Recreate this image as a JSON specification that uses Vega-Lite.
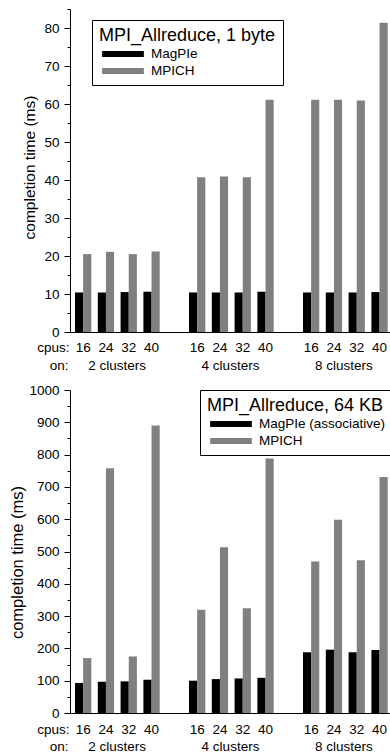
{
  "$schema": "https://vega.github.io/schema/vega-lite/v6.json",
  "padding": {"left": 9, "top": 8, "right": 0, "bottom": 0},
  "spacing": 11,
  "config": {
    "view": {"stroke": null},
    "font": "Liberation Sans",
    "axis": {"domainColor": "black", "tickColor": "black", "labelColor": "black", "titleColor": "black", "labelFont": "Liberation Sans", "titleFont": "Liberation Sans", "labelFontSize": 13.5, "titleFontSize": 13.5, "titleFontWeight": "normal", "grid": false, "domainWidth": 1, "tickWidth": 1},
    "legend": {"orient": "none", "titleFontSize": 18, "titleFontWeight": "normal", "titleFont": "Liberation Sans", "titleColor": "black", "titlePadding": 2, "labelFontSize": 13.5, "labelFont": "Liberation Sans", "labelColor": "black", "labelOffset": 7, "symbolType": "M-1,-0.14H1V0.14H-1Z", "symbolSize": 1740, "symbolStrokeWidth": 0, "symbolOffset": 3, "clipHeight": 14, "rowPadding": 3, "padding": 7, "strokeColor": "black", "fillColor": "white", "cornerRadius": 0}
  },
  "datasets": {
    "small": [
      {"clusters": "2 clusters", "cpus": 16, "impl": "MagPIe", "time": 10.4},
      {"clusters": "2 clusters", "cpus": 16, "impl": "MPICH", "time": 20.5},
      {"clusters": "2 clusters", "cpus": 24, "impl": "MagPIe", "time": 10.4},
      {"clusters": "2 clusters", "cpus": 24, "impl": "MPICH", "time": 21.1},
      {"clusters": "2 clusters", "cpus": 32, "impl": "MagPIe", "time": 10.5},
      {"clusters": "2 clusters", "cpus": 32, "impl": "MPICH", "time": 20.5},
      {"clusters": "2 clusters", "cpus": 40, "impl": "MagPIe", "time": 10.6},
      {"clusters": "2 clusters", "cpus": 40, "impl": "MPICH", "time": 21.2},
      {"clusters": "4 clusters", "cpus": 16, "impl": "MagPIe", "time": 10.4},
      {"clusters": "4 clusters", "cpus": 16, "impl": "MPICH", "time": 40.7},
      {"clusters": "4 clusters", "cpus": 24, "impl": "MagPIe", "time": 10.4},
      {"clusters": "4 clusters", "cpus": 24, "impl": "MPICH", "time": 40.9},
      {"clusters": "4 clusters", "cpus": 32, "impl": "MagPIe", "time": 10.4},
      {"clusters": "4 clusters", "cpus": 32, "impl": "MPICH", "time": 40.7},
      {"clusters": "4 clusters", "cpus": 40, "impl": "MagPIe", "time": 10.6},
      {"clusters": "4 clusters", "cpus": 40, "impl": "MPICH", "time": 61.1},
      {"clusters": "8 clusters", "cpus": 16, "impl": "MagPIe", "time": 10.4},
      {"clusters": "8 clusters", "cpus": 16, "impl": "MPICH", "time": 61.1},
      {"clusters": "8 clusters", "cpus": 24, "impl": "MagPIe", "time": 10.4},
      {"clusters": "8 clusters", "cpus": 24, "impl": "MPICH", "time": 61.1},
      {"clusters": "8 clusters", "cpus": 32, "impl": "MagPIe", "time": 10.4},
      {"clusters": "8 clusters", "cpus": 32, "impl": "MPICH", "time": 60.9},
      {"clusters": "8 clusters", "cpus": 40, "impl": "MagPIe", "time": 10.5},
      {"clusters": "8 clusters", "cpus": 40, "impl": "MPICH", "time": 81.4}
    ],
    "large": [
      {"clusters": "2 clusters", "cpus": 16, "impl": "MagPIe (associative)", "time": 93},
      {"clusters": "2 clusters", "cpus": 16, "impl": "MPICH", "time": 170},
      {"clusters": "2 clusters", "cpus": 24, "impl": "MagPIe (associative)", "time": 97},
      {"clusters": "2 clusters", "cpus": 24, "impl": "MPICH", "time": 758},
      {"clusters": "2 clusters", "cpus": 32, "impl": "MagPIe (associative)", "time": 98},
      {"clusters": "2 clusters", "cpus": 32, "impl": "MPICH", "time": 175},
      {"clusters": "2 clusters", "cpus": 40, "impl": "MagPIe (associative)", "time": 103},
      {"clusters": "2 clusters", "cpus": 40, "impl": "MPICH", "time": 890},
      {"clusters": "4 clusters", "cpus": 16, "impl": "MagPIe (associative)", "time": 100},
      {"clusters": "4 clusters", "cpus": 16, "impl": "MPICH", "time": 320},
      {"clusters": "4 clusters", "cpus": 24, "impl": "MagPIe (associative)", "time": 105},
      {"clusters": "4 clusters", "cpus": 24, "impl": "MPICH", "time": 513},
      {"clusters": "4 clusters", "cpus": 32, "impl": "MagPIe (associative)", "time": 107},
      {"clusters": "4 clusters", "cpus": 32, "impl": "MPICH", "time": 324},
      {"clusters": "4 clusters", "cpus": 40, "impl": "MagPIe (associative)", "time": 109},
      {"clusters": "4 clusters", "cpus": 40, "impl": "MPICH", "time": 788},
      {"clusters": "8 clusters", "cpus": 16, "impl": "MagPIe (associative)", "time": 188},
      {"clusters": "8 clusters", "cpus": 16, "impl": "MPICH", "time": 469},
      {"clusters": "8 clusters", "cpus": 24, "impl": "MagPIe (associative)", "time": 196},
      {"clusters": "8 clusters", "cpus": 24, "impl": "MPICH", "time": 598},
      {"clusters": "8 clusters", "cpus": 32, "impl": "MagPIe (associative)", "time": 188},
      {"clusters": "8 clusters", "cpus": 32, "impl": "MPICH", "time": 473},
      {"clusters": "8 clusters", "cpus": 40, "impl": "MagPIe (associative)", "time": 195},
      {"clusters": "8 clusters", "cpus": 40, "impl": "MPICH", "time": 731}
    ]
  },
  "vconcat": [
    {
      "width": 320,
      "height": 323,
      "data": {"name": "small"},
      "transform": [{"calculate": "datum.clusters + '|' + datum.cpus", "as": "slot"}],
      "layer": [
        {
          "mark": {"type": "bar"},
          "encoding": {
            "x": {
              "field": "slot", "type": "nominal",
              "scale": {"type": "band", "domain": ["2 clusters|16", "2 clusters|24", "2 clusters|32", "2 clusters|40", "gap1", "4 clusters|16", "4 clusters|24", "4 clusters|32", "4 clusters|40", "gap2", "8 clusters|16", "8 clusters|24", "8 clusters|32", "8 clusters|40"], "paddingInner": 0.285, "paddingOuter": 0.16, "align": 0.685},
              "axis": {"ticks": false, "labelPadding": 8.5, "labelAngle": 0, "labelExpr": "indexof(datum.value, '|') >= 0 ? split(datum.value, '|')[1] : ''", "title": "cpus:", "titleX": -1, "titleY": 8.5, "titleAlign": "right", "titleBaseline": "top"}
            },
            "xOffset": {"field": "impl", "type": "nominal", "scale": {"domain": ["MagPIe", "MPICH"], "paddingInner": 0, "paddingOuter": 0}},
            "y": {
              "field": "time", "type": "quantitative",
              "scale": {"domain": [0, 85], "nice": false},
              "axis": {"values": [0, 5, 10, 15, 20, 25, 30, 35, 40, 45, 50, 55, 60, 65, 70, 75, 80, 85], "labelExpr": "datum.value % 10 === 0 ? datum.label : ''", "tickSize": {"condition": {"test": "datum.value % 10 === 0", "value": 6}, "value": 3}, "labelPadding": 5, "title": "completion time (ms)", "titleFontSize": 15.5, "titleX": -41, "titleY": 158, "titleAngle": -90, "titleAlign": "center", "titleBaseline": "middle"}
            },
            "color": {
              "field": "impl", "type": "nominal",
              "scale": {"domain": ["MagPIe", "MPICH"], "range": ["#000000", "#808080"]},
              "legend": {"title": "MPI_Allreduce, 1 byte", "legendX": 22, "legendY": 11}
            }
          }
        },
        {
          "mark": {"type": "text", "opacity": 0},
          "encoding": {
            "x": {
              "field": "clusters", "type": "nominal",
              "scale": {"type": "point", "domain": ["2 clusters", "4 clusters", "8 clusters"], "padding": 0.41},
              "axis": {"orient": "bottom", "ticks": false, "domain": false, "labelPadding": 26, "labelAngle": 0, "title": "on:", "titleX": -2, "titleY": 26, "titleAlign": "right", "titleBaseline": "top"}
            },
            "text": {"value": ""}
          }
        }
      ],
      "resolve": {"scale": {"x": "independent"}, "axis": {"x": "independent"}}
    },
    {
      "width": 320,
      "height": 323,
      "data": {"name": "large"},
      "transform": [{"calculate": "datum.clusters + '|' + datum.cpus", "as": "slot"}],
      "layer": [
        {
          "mark": {"type": "bar"},
          "encoding": {
            "x": {
              "field": "slot", "type": "nominal",
              "scale": {"type": "band", "domain": ["2 clusters|16", "2 clusters|24", "2 clusters|32", "2 clusters|40", "gap1", "4 clusters|16", "4 clusters|24", "4 clusters|32", "4 clusters|40", "gap2", "8 clusters|16", "8 clusters|24", "8 clusters|32", "8 clusters|40"], "paddingInner": 0.285, "paddingOuter": 0.16, "align": 0.685},
              "axis": {"ticks": false, "labelPadding": 9, "labelAngle": 0, "labelExpr": "indexof(datum.value, '|') >= 0 ? split(datum.value, '|')[1] : ''", "title": "cpus:", "titleX": -1, "titleY": 9, "titleAlign": "right", "titleBaseline": "top"}
            },
            "xOffset": {"field": "impl", "type": "nominal", "scale": {"domain": ["MagPIe (associative)", "MPICH"], "paddingInner": 0, "paddingOuter": 0}},
            "y": {
              "field": "time", "type": "quantitative",
              "scale": {"domain": [0, 1000], "nice": false},
              "axis": {"values": [0, 50, 100, 150, 200, 250, 300, 350, 400, 450, 500, 550, 600, 650, 700, 750, 800, 850, 900, 950, 1000], "format": "d", "labelExpr": "datum.value % 100 === 0 ? datum.label : ''", "tickSize": {"condition": {"test": "datum.value % 100 === 0", "value": 6}, "value": 3}, "labelPadding": 5, "title": "completion time (ms)", "titleFontSize": 16.5, "titleX": -52.5, "titleY": 172, "titleAngle": -90, "titleAlign": "center", "titleBaseline": "middle"}
            },
            "color": {
              "field": "impl", "type": "nominal",
              "scale": {"domain": ["MagPIe (associative)", "MPICH"], "range": ["#000000", "#808080"]},
              "legend": {"title": "MPI_Allreduce, 64 KB", "legendX": 130, "legendY": 0}
            }
          }
        },
        {
          "mark": {"type": "text", "opacity": 0},
          "encoding": {
            "x": {
              "field": "clusters", "type": "nominal",
              "scale": {"type": "point", "domain": ["2 clusters", "4 clusters", "8 clusters"], "padding": 0.41},
              "axis": {"orient": "bottom", "ticks": false, "domain": false, "labelPadding": 26.5, "labelAngle": 0, "title": "on:", "titleX": -2, "titleY": 26.5, "titleAlign": "right", "titleBaseline": "top"}
            },
            "text": {"value": ""}
          }
        }
      ],
      "resolve": {"scale": {"x": "independent"}, "axis": {"x": "independent"}}
    }
  ],
  "resolve": {"scale": {"color": "independent", "xOffset": "independent"}, "legend": {"color": "independent"}}
}
